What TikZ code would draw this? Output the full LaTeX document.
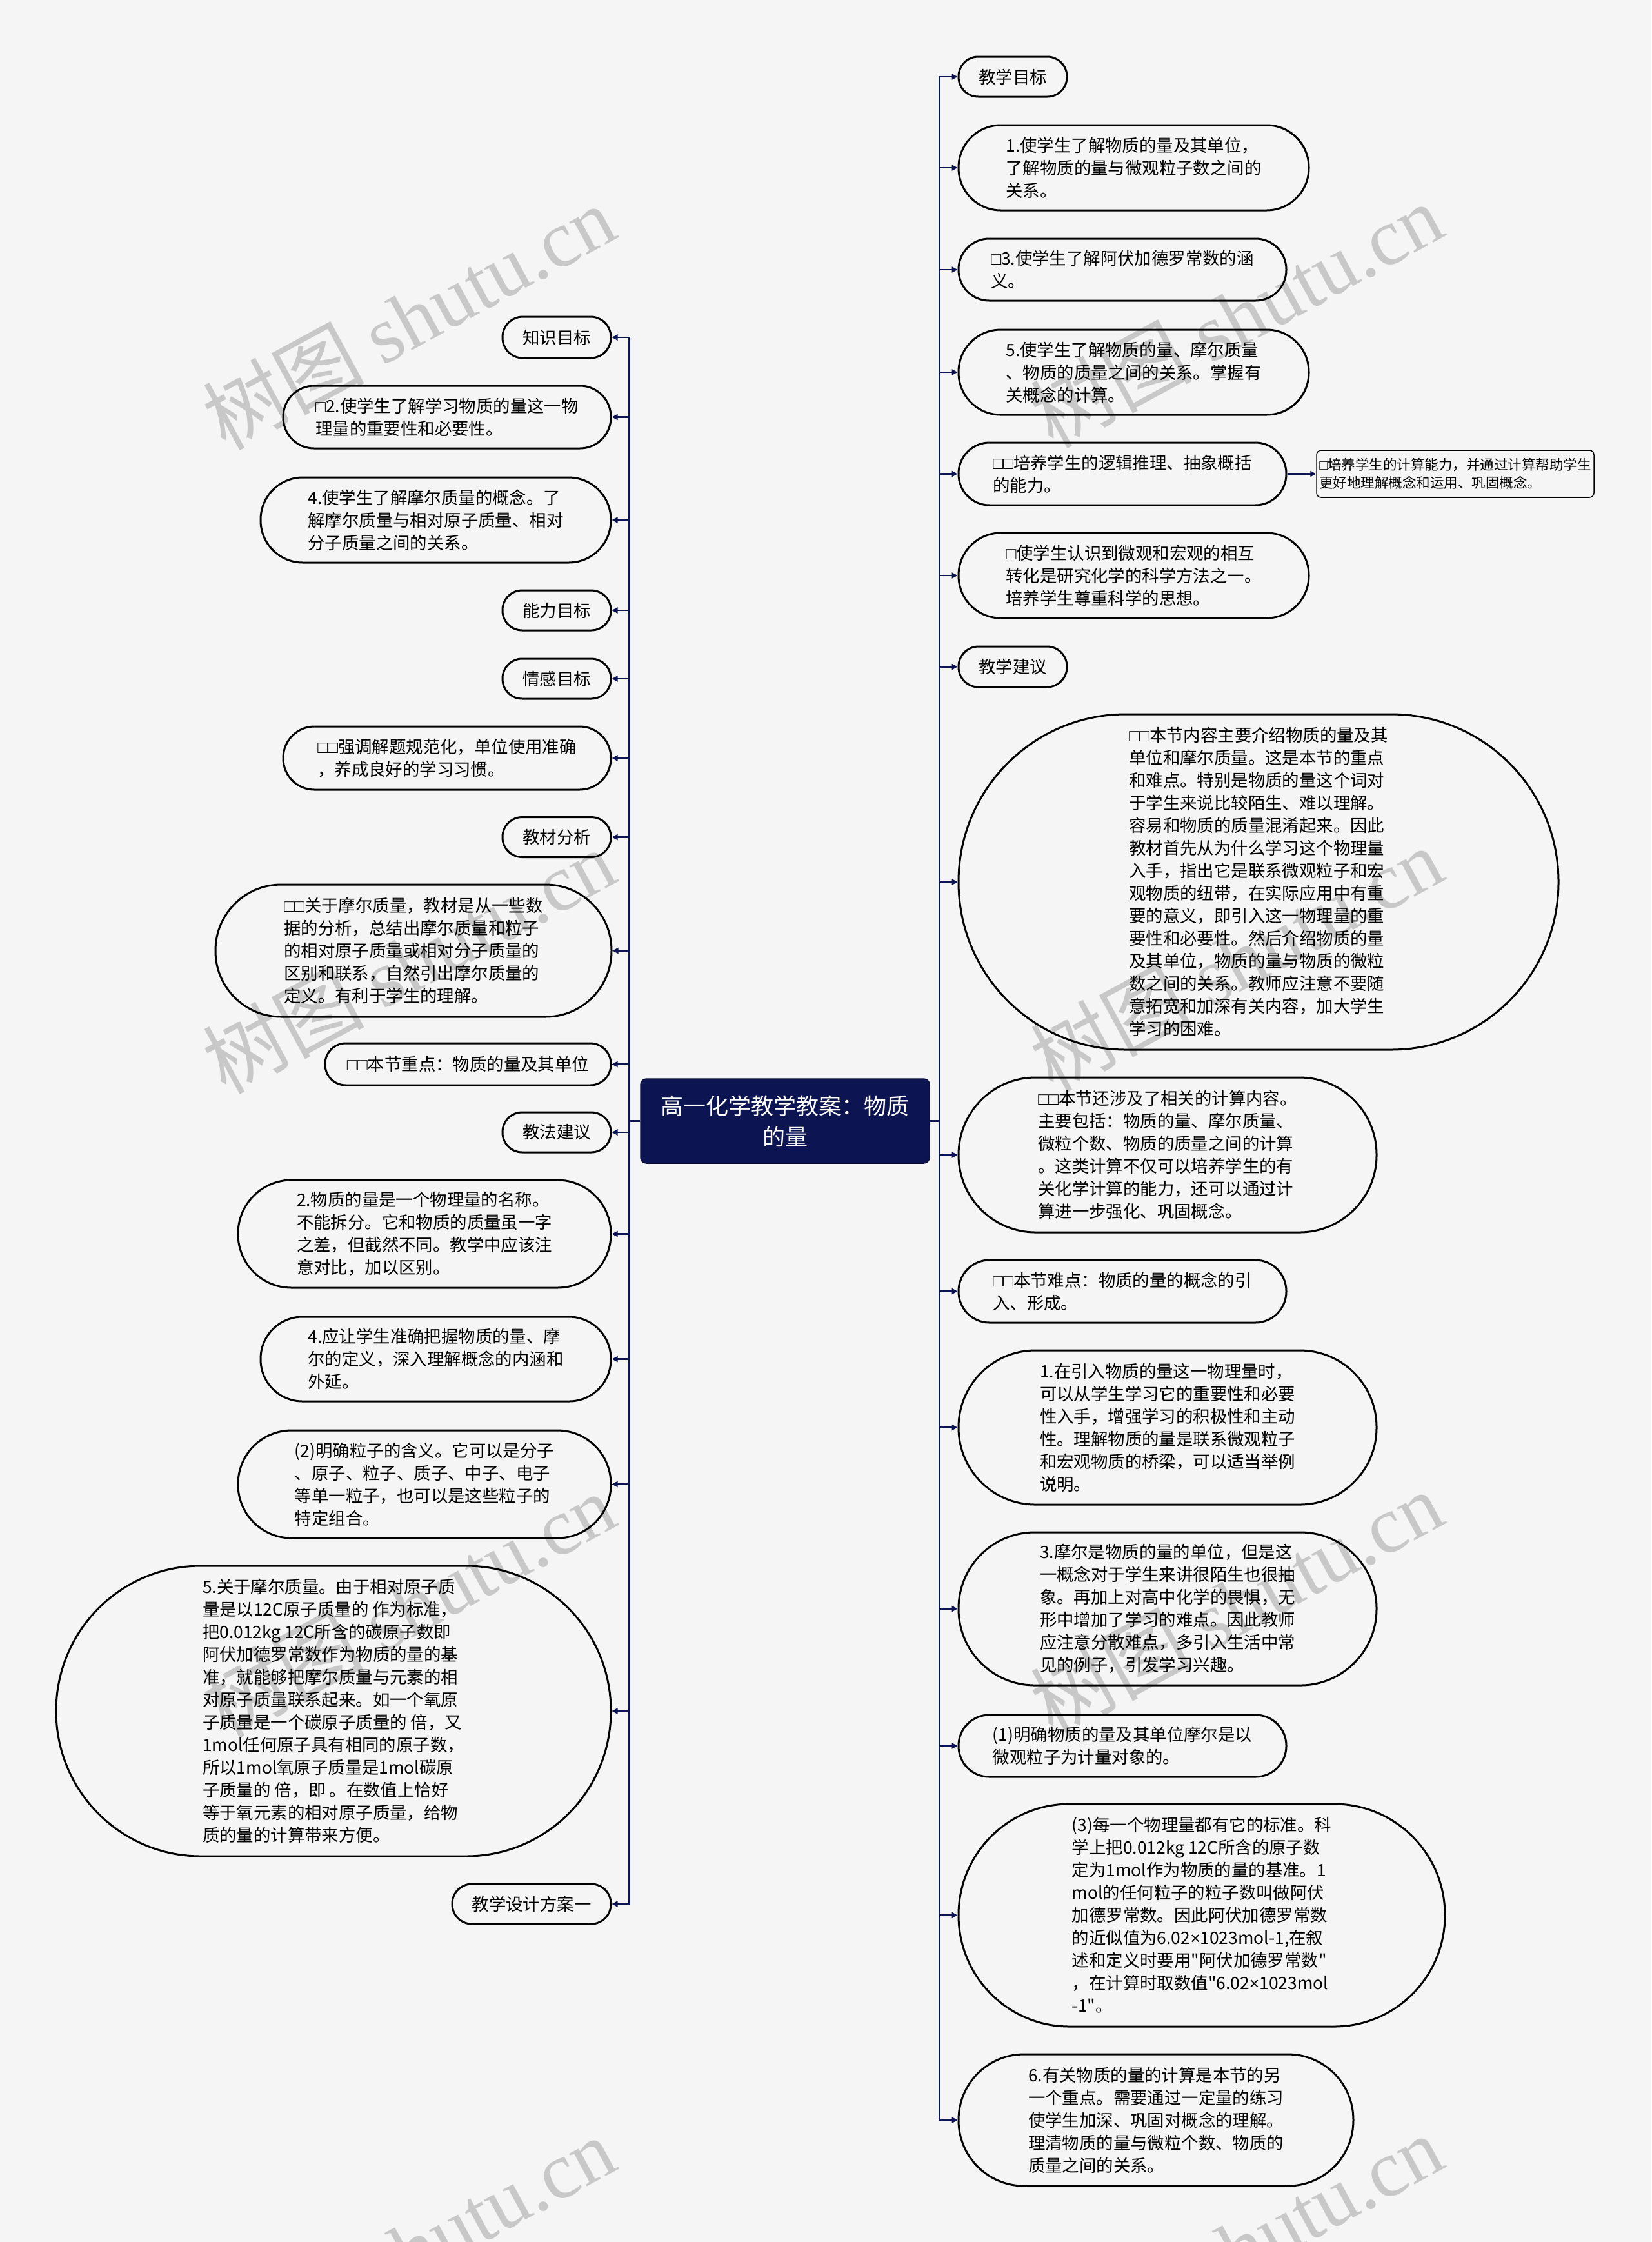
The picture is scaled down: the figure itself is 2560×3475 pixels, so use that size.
\documentclass[tikz,border=0pt]{standalone}
\usepackage{fontspec}
\setmainfont{Noto Sans CJK SC}
\newfontfamily\rawcjk{Noto Sans CJK SC}
\newfontfamily\libsans{Liberation Sans}
\newfontfamily\libserif{Liberation Serif}
\usetikzlibrary{arrows.meta}
\definecolor{bgc}{HTML}{F5F5F5}
\definecolor{navy}{HTML}{0D1452}
\newcommand{\tofu}{{\libsans □}}
\newcommand{\dq}{{\rawcjk "}}
\newcommand{\tms}{{\libsans ×}}
\newcommand{\bodyfont}{\fontsize{26.4}{35}\selectfont}
\newcommand{\pnode}[6]{\node[pill=#5, minimum width=#3pt, minimum height=#4pt] (#1) at (#2) {#6};}
\begin{document}
\begin{tikzpicture}[x=1pt,y=-1pt,
  pill/.style={draw=black, line width=3pt, fill=bgc, rounded corners=#1pt, inner sep=0pt, align=left, font=\bodyfont, text=black},
  conn/.style={draw=navy, line width=2.8pt, -{Triangle[length=9pt,width=9pt]}},
  wm/.style={anchor=base west, rotate=28.5, text=black, opacity=0.18, font=\fontsize{125}{125}\selectfont, inner sep=0pt}
]
\useasboundingbox (0,0) rectangle (2560,3475);
\fill[bgc] (0,0) rectangle (2560,3475);

% central
\node[draw=navy!70!black, fill=navy, line width=1.5pt, rounded corners=9pt, minimum width=448pt, minimum height=131pt, text=white, font=\fontsize{35}{48}\selectfont, align=center, inner sep=0pt] (C) at (1217,1737.5) {高一化学教学教案：物质\\的量};

% right side
\pnode{R1}{1570,119}{168}{62}{30.5}{教学目标}
\pnode{R2}{1757.5,260}{543}{132}{65.5}{1.使学生了解物质的量及其单位，\\了解物质的量与微观粒子数之间的\\关系。}
\pnode{R3}{1740,418}{508}{96}{47.5}{\tofu 3.使学生了解阿伏加德罗常数的涵\\义。}
\pnode{R4}{1757.5,577}{543}{132}{65.5}{5.使学生了解物质的量、摩尔质量\\、物质的质量之间的关系。掌握有\\关概念的计算。}
\pnode{R5}{1740,734.5}{508}{97}{48}{\tofu\tofu 培养学生的逻辑推理、抽象概括\\的能力。}
\node[draw=black, line width=1.5pt, fill=bgc, rounded corners=7pt, minimum width=430pt, minimum height=73pt, inner sep=0pt, align=left, font=\fontsize{21.5}{27.5}\selectfont] (R5c) at (2256,734.5) {\tofu 培养学生的计算能力，并通过计算帮助学生\\更好地理解概念和运用、巩固概念。};
\pnode{R6}{1757.5,892}{543}{132}{65.5}{\tofu 使学生认识到微观和宏观的相互\\转化是研究化学的科学方法之一。\\培养学生尊重科学的思想。}
\pnode{R7}{1570,1033.5}{168}{63}{31}{教学建议}
\pnode{R8}{1951,1367}{930}{520}{259.5}{\tofu\tofu 本节内容主要介绍物质的量及其\\单位和摩尔质量。这是本节的重点\\和难点。特别是物质的量这个词对\\于学生来说比较陌生、难以理解。\\容易和物质的质量混淆起来。因此\\教材首先从为什么学习这个物理量\\入手，指出它是联系微观粒子和宏\\观物质的纽带，在实际应用中有重\\要的意义，即引入这一物理量的重\\要性和必要性。然后介绍物质的量\\及其单位，物质的量与物质的微粒\\数之间的关系。教师应注意不要随\\意拓宽和加深有关内容，加大学生\\学习的困难。}
\pnode{R9}{1810,1790}{648}{240}{119.5}{\tofu\tofu 本节还涉及了相关的计算内容。\\主要包括：物质的量、摩尔质量、\\微粒个数、物质的质量之间的计算\\。这类计算不仅可以培养学生的有\\关化学计算的能力，还可以通过计\\算进一步强化、巩固概念。}
\pnode{R10}{1740,2001.5}{508}{97}{48}{\tofu\tofu 本节难点：物质的量的概念的引\\入、形成。}
\pnode{R11}{1810,2212.5}{648}{239}{119}{1.在引入物质的量这一物理量时，\\可以从学生学习它的重要性和必要\\性入手，增强学习的积极性和主动\\性。理解物质的量是联系微观粒子\\和宏观物质的桥梁，可以适当举例\\说明。}
\pnode{R12}{1810,2493.5}{648}{237}{118}{3.摩尔是物质的量的单位，但是这\\一概念对于学生来讲很陌生也很抽\\象。再加上对高中化学的畏惧，无\\形中增加了学习的难点。因此教师\\应注意分散难点，多引入生活中常\\见的例子，引发学习兴趣。}
\pnode{R13}{1740,2706}{508}{96}{47.5}{(1)明确物质的量及其单位摩尔是以\\微观粒子为计量对象的。}
\pnode{R14}{1863,2968.5}{754}{345}{172}{(3)每一个物理量都有它的标准。科\\学上把0.012kg 12C所含的原子数\\定为1mol作为物质的量的基准。1\\mol的任何粒子的粒子数叫做阿伏\\加德罗常数。因此阿伏加德罗常数\\的近似值为6.02\tms 1023mol-1,在叙\\述和定义时要用\dq 阿伏加德罗常数\dq\\，在计算时取数值\dq 6.02\tms 1023mol\\-1\dq 。}
\pnode{R15}{1792,3286}{612}{204}{101.5}{6.有关物质的量的计算是本节的另\\一个重点。需要通过一定量的练习\\使学生加深、巩固对概念的理解。\\理清物质的量与微粒个数、物质的\\质量之间的关系。}

% left side
\pnode{L1}{863,523}{168}{64}{31.5}{知识目标}
\pnode{L2}{693,646.5}{508}{97}{48}{\tofu 2.使学生了解学习物质的量这一物\\理量的重要性和必要性。}
\pnode{L3}{675.5,806}{543}{132}{65.5}{4.使学生了解摩尔质量的概念。了\\解摩尔质量与相对原子质量、相对\\分子质量之间的关系。}
\pnode{L4}{863,946}{168}{62}{30.5}{能力目标}
\pnode{L5}{863,1052}{168}{62}{30.5}{情感目标}
\pnode{L6}{693,1175}{508}{98}{48.5}{\tofu\tofu 强调解题规范化，单位使用准确\\，养成良好的学习习惯。}
\pnode{L7}{863,1297.5}{168}{62}{30.5}{教材分析}
\pnode{L8}{641,1473.5}{614}{205}{102}{\tofu\tofu 关于摩尔质量，教材是从一些数\\据的分析，总结出摩尔质量和粒子\\的相对原子质量或相对分子质量的\\区别和联系，自然引出摩尔质量的\\定义。有利于学生的理解。}
\pnode{L9}{725.5,1649.5}{443}{65}{32}{\tofu\tofu 本节重点：物质的量及其单位}
\pnode{L10}{863,1755}{168}{62}{30.5}{教法建议}
\pnode{L11}{658,1912.5}{578}{167}{83}{2.物质的量是一个物理量的名称。\\不能拆分。它和物质的质量虽一字\\之差，但截然不同。教学中应该注\\意对比，加以区别。}
\pnode{L12}{675.5,2106.5}{543}{131}{65}{4.应让学生准确把握物质的量、摩\\尔的定义，深入理解概念的内涵和\\外延。}
\pnode{L13}{658,2300.5}{578}{167}{83}{(2)明确粒子的含义。它可以是分子\\、原子、粒子、质子、中子、电子\\等单一粒子，也可以是这些粒子的\\特定组合。}
\pnode{L14}{517,2652}{860}{450}{224.5}{5.关于摩尔质量。由于相对原子质\\量是以12C原子质量的 作为标准，\\把0.012kg 12C所含的碳原子数即\\阿伏加德罗常数作为物质的量的基\\准，就能够把摩尔质量与元素的相\\对原子质量联系起来。如一个氧原\\子质量是一个碳原子质量的 倍，又\\1mol任何原子具有相同的原子数，\\所以1mol氧原子质量是1mol碳原\\子质量的 倍，即 。在数值上恰好\\等于氧元素的相对原子质量，给物\\质的量的计算带来方便。}
\pnode{L15}{824,2951}{246}{62}{30.5}{教学设计方案一}

% connectors right
\foreach \n in {R1,R2,R3,R4,R5,R6,R7,R8,R9,R10,R11,R12,R13,R14,R15}{
  \draw[conn] (C.east) -- ++(15,0) |- (\n.west);
}
\draw[conn] (R5.east) -- (R5c.west);
% connectors left
\foreach \n in {L1,L2,L3,L4,L5,L6,L7,L8,L9,L10,L11,L12,L13,L14,L15}{
  \draw[conn] (C.west) -- ++(-17,0) |- (\n.east);
}

% watermarks
\foreach \k in {0,1,2,3}{
  \node[wm] (wl\k) at (349,700+998*\k) {树图 {\libserif shutu.cn}};
  \node[wm] (wr\k) at (1632,697+998*\k) {树图 {\libserif shutu.cn}};
}
\end{tikzpicture}
\end{document}
